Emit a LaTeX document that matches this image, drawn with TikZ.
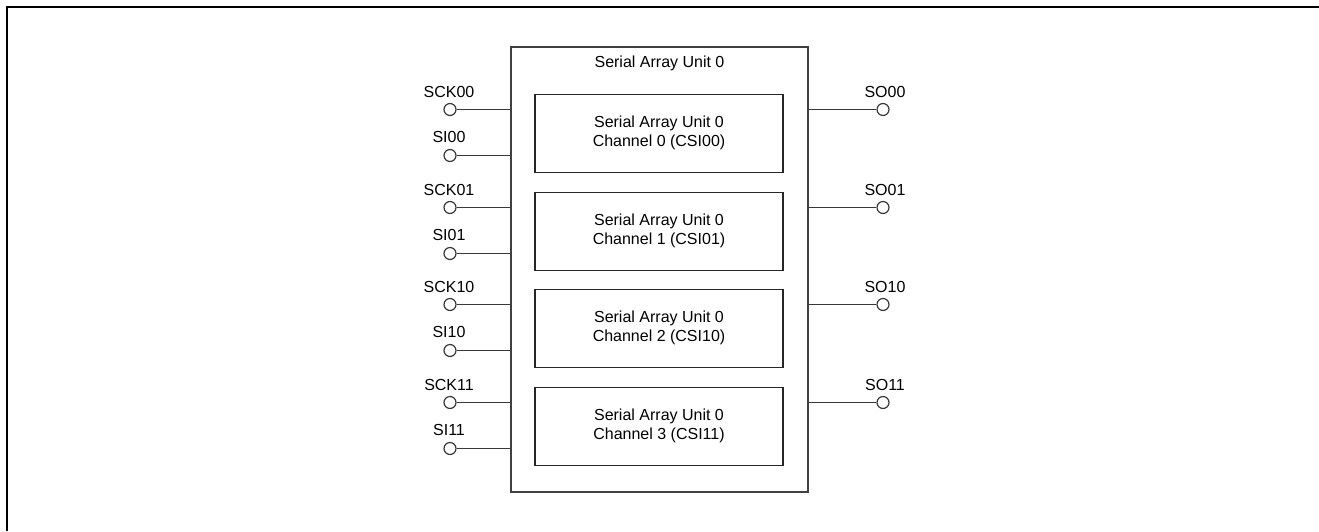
\documentclass[tikz,border=0pt]{standalone}
\usepackage{fontspec}
\setmainfont{Liberation Sans}
\begin{document}
\begin{tikzpicture}[x=1pt,y=-1pt,
  lbl/.style={font=\fontsize{16}{19}\selectfont, inner sep=0pt},
  wire/.style={draw=black!78, line width=1.5pt},
  chbox/.style={draw=black!85, line width=1.6pt, minimum width=248pt, minimum height=78pt, inner sep=0pt, align=center, font=\fontsize{16}{19}\selectfont},
  pin/.style={circle, draw=black!78, line width=1.2pt, minimum size=12pt, inner sep=0pt, fill=white}]
\useasboundingbox (0,0) rectangle (1319,531);
\draw[line width=2.2pt] (7,531) -- (7,7) -- (1319,7);
% outer box
\node[draw=black!75, line width=1.6pt, minimum width=297pt, minimum height=445pt, inner sep=0pt] (unit) at (659.5,269.5) {};
\node[lbl] (title) at (659.5,63.5) {Serial Array Unit 0};
\foreach \i/\t/\csi/\sck/\si/\so in {0/94.5/CSI00/SCK00/SI00/SO00,1/192.5/CSI01/SCK01/SI01/SO01,2/289.5/CSI10/SCK10/SI10/SO10,3/387.5/CSI11/SCK11/SI11/SO11}{
  \node[chbox] (ch\i) at (659,\t+39) {\raisebox{-1.5pt}{\begin{tabular}{@{}c@{}}Serial Array Unit 0\\Channel \i\ (\csi)\end{tabular}}};
  \node[pin] (sck\i) at (450,\t+15) {};
  \node[pin] (si\i) at (450,\t+61) {};
  \node[pin] (so\i) at (883,\t+15) {};
  \node[lbl, anchor=base] (sckl\i) at (449,\t+3) {\sck};
  \node[lbl, anchor=base] (sil\i) at (449,\t+48) {\si};
  \node[lbl, anchor=base] (sol\i) at (885,\t+3) {\so};
  \draw[wire] (sck\i.east) -- (sck\i.east -| unit.west);
  \draw[wire] (si\i.east) -- (si\i.east -| unit.west);
  \draw[wire] (so\i.west) -- (so\i.west -| unit.east);
}
\end{tikzpicture}
\end{document}
